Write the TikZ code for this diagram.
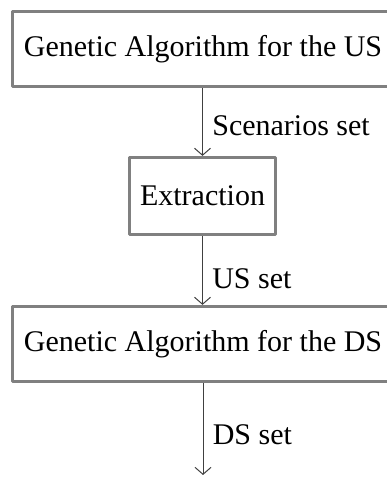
\documentclass[tikz,border=0pt]{standalone}
\usepackage{fontspec}
\setmainfont{Liberation Serif}
\usetikzlibrary{arrows.meta}
\begin{document}
\begin{tikzpicture}[x=1bp,y=1bp,>={Straight Barb[length=7bp,width=16bp]},line join=round,
	font=\fontsize{30bp}{36bp}\selectfont,
	box/.style={draw=gray,line width=3.2bp,inner sep=0pt,align=center},
	flow/.style={->,draw=black!75,line width=1bp},
	tag/.style={right,xshift=6bp}]
	\useasboundingbox (0,0) rectangle (386,480);
	\node[box,minimum width=381bp,minimum height=75bp] (gaus) at (203,431) {Genetic Algorithm for the US};
	\node[box,minimum width=146bp,minimum height=77bp] (extract) at (202.5,284) {Extraction};
	\node[box,minimum width=381bp,minimum height=75bp] (gads) at (203,136) {Genetic Algorithm for the DS};
	\coordinate (out) at (203,5);
	\draw[flow] (gaus.south-|extract.north) -- (extract.north) node[pos=0.55,tag]{Scenarios set};
	\draw[flow] (extract.south) -- (extract.south|-gads.north) node[pos=0.62,tag]{US set};
	\draw[flow] (gads.south-|out) -- (out) node[pos=0.56,tag]{DS set};
\end{tikzpicture}
\end{document}
